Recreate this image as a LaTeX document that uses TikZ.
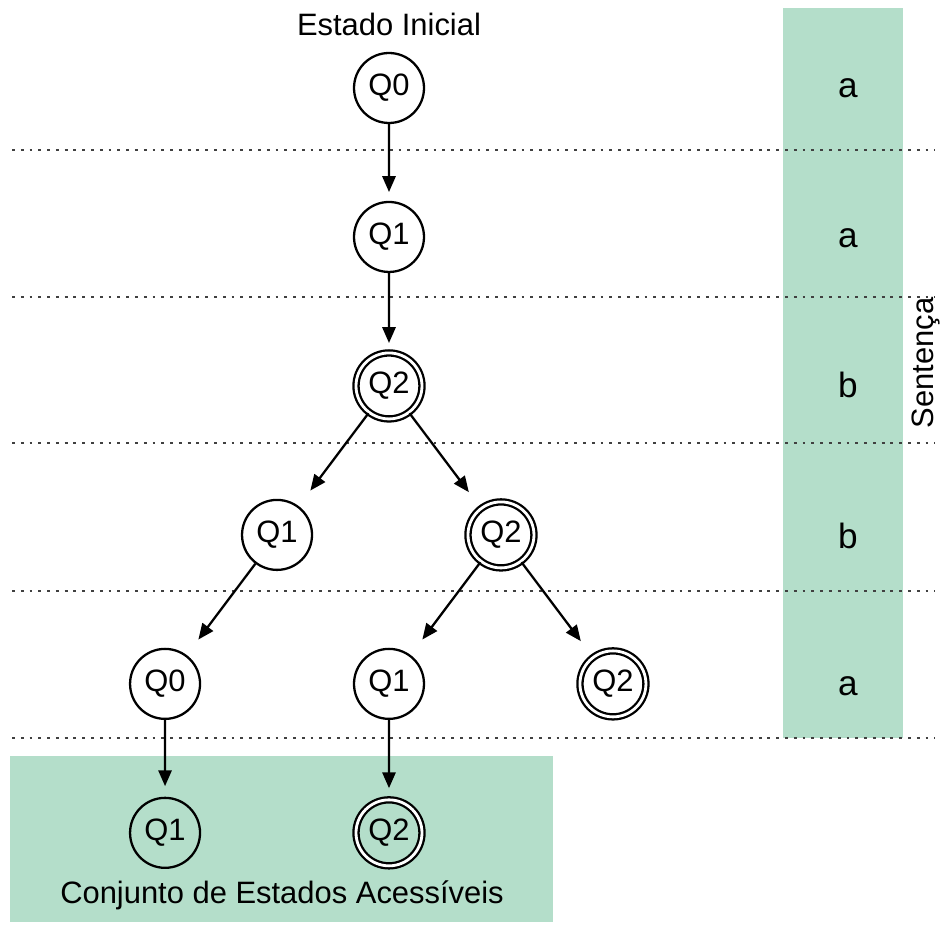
\documentclass[tikz,border=0pt]{standalone}
\usepackage{fontspec}
\setmainfont{Liberation Sans}
\usetikzlibrary{arrows.meta}
\definecolor{mint}{RGB}{180,222,202}

\begin{document}
\begin{tikzpicture}[x=0.02cm,y=-0.02cm,
                        level distance=2.98cm,
                        level 3/.style={sibling distance=4.48cm,edge from parent/.append style={shorten >=11pt}},
                        level 4/.style={sibling distance=4.48cm},
                        level 5/.style={edge from parent/.append style={shorten >=6pt}},
                        line width=1.3pt,font=\fontsize{17.6}{21}\selectfont,
                        state/.style={circle,draw,minimum size=1.4cm,inner sep=0pt},
                        final/.style={state,double,double distance=1.6pt,minimum size=1.32cm},
                        edge from parent/.style={draw,-{Triangle[length=9pt,width=7.5pt]},shorten >=5pt},
                        level line/.style={line width=0.8pt,dash pattern=on 1.6pt off 3.4pt,black!75},
                        symbol/.style={font=\fontsize{20}{24}\selectfont}]

    \useasboundingbox (0,0) rectangle (944,925);

    % Background panels
    \fill[mint] (783,8) rectangle (903,738);
    \fill[mint] (10,756) rectangle (553,922);

    % Level separators
    \foreach \y in {150,297,443,591,738}
        \draw[level line] (12,\y) -- (935,\y);

    % Input symbols
    \node[symbol] (s1) at (848,88) {a};
    \node[symbol] (s2) at (848,238) {a};
    \node[symbol] (s3) at (848,385) {b};
    \node[symbol] (s4) at (848,536) {b};
    \node[symbol] (s5) at (848,686) {a};
    \node[rotate=90] (sent) at (926,363) {Sentença};

    % Define states
    \node[state] (Q0a) at (389,88) {Q0}
        child {node[state] (Q1a) {Q1}
        child {node[final] (Q2a) {Q2}
        child {node[state] (Q1b) {Q1}
        child {node[state] (Q0b) {Q0}
        child {node[state] (Q1d) {Q1}}
        }
        child[missing]
        }
        child {node[final] (Q2b) {Q2}
        child {node[state] (Q1c) {Q1}
        child {node[final] (Q2d) {Q2}}
        }
        child {node[final] (Q2c) {Q2}}
        }
        }
        };

    \node (ini) at (389,24) {Estado Inicial};
    \node (acc) at (282,895) {Conjunto de Estados Acessíveis};

\end{tikzpicture}
\end{document}
